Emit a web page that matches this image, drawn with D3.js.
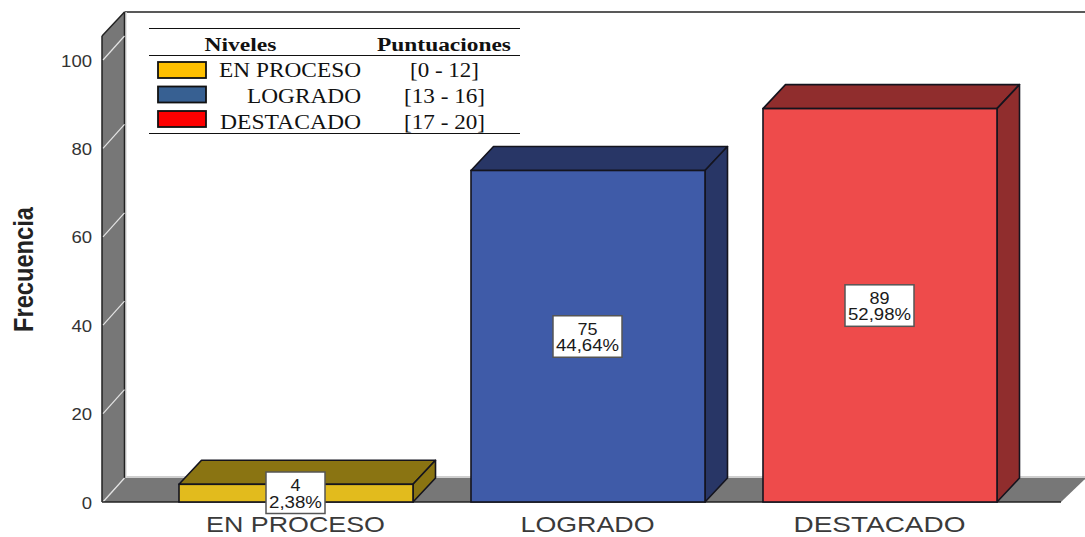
<!DOCTYPE html>
<html>
<head>
<meta charset="utf-8">
<style>
  html, body { margin: 0; background: #fff; overflow: hidden; }
  svg { display: block; }
</style>
<script src="https://cdn.jsdelivr.net/npm/d3@7"></script>
</head>
<body>
<svg id="chart" width="1085" height="537"></svg>
<script>
const categories = ['EN PROCESO', 'LOGRADO', 'DESTACADO'];
const counts = [4, 75, 89];
const percents = ['2,38%', '44,64%', '52,98%'];
const frontColors = ['#e2bb1d', '#3f5ba8', '#ee4b4b'];
const sideColors = ['#8a7412', '#283666', '#902d2d'];
const yTicks = [0, 20, 40, 60, 80, 100];

const legendLevels = ['EN PROCESO', 'LOGRADO', 'DESTACADO'];
const legendRanges = ['[0 - 12]', '[13 - 16]', '[17 - 20]'];
const legendColors = ['#ffc000', '#376092', '#ff0000'];

const SANS = '"Liberation Sans", Arial, sans-serif';
const SERIF = '"Liberation Serif", "Times New Roman", serif';

const depthX = 22.5, depthY = -24;
const svg = d3.select('#chart');

const x = d3.scaleBand().domain(categories).range([179, 997]).paddingInner(0.1986);
const y = d3.scaleLinear().domain([0, 100]).range([502, 60]);

// Polygon helper, offsets are the 3d depth
function poly(parent, pts, fill, stroke) {
  return parent.append('polygon')
    .attr('points', pts.map(p => p.join(',')).join(' '))
    .attr('fill', fill)
    .attr('stroke', stroke || 'none')
    .attr('stroke-width', stroke ? 1.6 : 0)
    .attr('stroke-linejoin', 'round');
}

// Back wall edges and floor
const wallLeft = 102, floorRight = 1061, wallTop = 36;
const floorY = y(0);

svg.append('rect').attr('x', wallLeft + depthX + 1).attr('y', floorY + depthY - 2)
  .attr('width', 1085 - wallLeft - depthX).attr('height', 4).attr('fill', '#cfcfcf');
svg.append('line').attr('x1', wallLeft + depthX).attr('x2', 1085)
  .attr('y1', wallTop + depthY).attr('y2', wallTop + depthY)
  .attr('stroke', '#222').attr('stroke-width', 1.6);
svg.append('line').attr('x1', wallLeft + depthX + 1.5).attr('x2', wallLeft + depthX + 1.5)
  .attr('y1', wallTop + depthY).attr('y2', floorY + depthY)
  .attr('stroke', '#ddd').attr('stroke-width', 1.5);

// Left wall
poly(svg, [[wallLeft, wallTop], [wallLeft + depthX, wallTop + depthY], [wallLeft + depthX, floorY + depthY], [wallLeft, floorY]], '#777');
svg.append('line').attr('x1', wallLeft).attr('x2', wallLeft).attr('y1', wallTop).attr('y2', floorY)
  .attr('stroke', '#222').attr('stroke-width', 1.5);
svg.append('line').attr('x1', wallLeft).attr('x2', wallLeft + depthX).attr('y1', wallTop).attr('y2', wallTop + depthY)
  .attr('stroke', '#222').attr('stroke-width', 1.5);
svg.append('line').attr('x1', wallLeft + depthX).attr('x2', wallLeft + depthX).attr('y1', wallTop + depthY).attr('y2', floorY + depthY)
  .attr('stroke', '#222').attr('stroke-width', 1.5);

// Floor
poly(svg, [[wallLeft, floorY], [wallLeft + depthX, floorY + depthY], [1085, floorY + depthY], [1085, floorY + depthY + 1], [floorRight, floorY]], '#777');

// Wall gridlines
svg.append('g').selectAll('line').data(yTicks).join('line')
  .attr('x1', wallLeft + 1).attr('x2', wallLeft + depthX)
  .attr('y1', d => y(d)).attr('y2', d => y(d) + depthY)
  .attr('stroke', '#e4e4e4').attr('stroke-width', 1.2);

svg.append('line').attr('x1', wallLeft).attr('x2', floorRight).attr('y1', floorY).attr('y2', floorY)
  .attr('stroke', '#222').attr('stroke-width', 1.6);

// Bars
categories.forEach((c, i) => {
  const g = svg.append('g');
  const x0 = x(c), x1 = x0 + x.bandwidth(), yT = y(counts[i]);
  poly(g, [[x0, yT], [x0 + depthX, yT + depthY], [x1 + depthX, yT + depthY], [x1, yT]], sideColors[i], '#14141e');
  poly(g, [[x1, yT], [x1 + depthX, yT + depthY], [x1 + depthX, floorY + depthY], [x1, floorY]], sideColors[i], '#14141e');
  g.append('rect').attr('x', x0).attr('y', yT).attr('width', x.bandwidth()).attr('height', floorY - yT)
    .attr('fill', frontColors[i]).attr('stroke', '#14141e').attr('stroke-width', 1.6);
});

// Value labels
categories.forEach((c, i) => {
  const cx = x(c) + x.bandwidth() / 2 - 0.5;
  // the small bar cannot hold its label, it sits lower around the bar front
  const cy = i === 0 ? 493 : y(counts[i] / 2) + 0.5;
  const g = svg.append('g');
  const boxW = i === 0 ? 59 : 69;
  g.append('rect').attr('x', cx - boxW / 2).attr('y', cy - 21).attr('width', boxW).attr('height', 41.5)
    .attr('fill', '#fff').attr('stroke', '#555').attr('stroke-width', 1.5);
  g.append('text').attr('x', cx).attr('y', cy - 2).attr('text-anchor', 'middle')
    .attr('font-family', SANS).attr('font-size', 16).attr('fill', '#1a1a1a')
    .attr('textLength', String(counts[i]).length * 10).attr('lengthAdjust', 'spacingAndGlyphs')
    .text(counts[i]);
  g.append('text').attr('x', cx).attr('y', cy + 14.5).attr('text-anchor', 'middle')
    .attr('font-family', SANS).attr('font-size', 16).attr('fill', '#1a1a1a')
    .attr('textLength', percents[i].length === 5 ? 53 : 63).attr('lengthAdjust', 'spacingAndGlyphs')
    .text(percents[i]);
});

// Y axis
const yAxis = svg.append('g')
  .attr('transform', 'translate(92,1)')
  .call(d3.axisLeft(y).tickValues(yTicks).tickSize(0).tickPadding(0));
yAxis.select('.domain').remove();
yAxis.selectAll('text')
  .attr('font-family', SANS).attr('font-size', 16).attr('fill', '#333')
  .attr('textLength', d => String(d).length * 10.3).attr('lengthAdjust', 'spacingAndGlyphs');

svg.append('text')
  .attr('transform', 'translate(33,269.5) rotate(-90)')
  .attr('text-anchor', 'middle')
  .attr('font-family', SANS).attr('font-weight', 'bold').attr('font-size', 27).attr('fill', '#222')
  .attr('textLength', 125).attr('lengthAdjust', 'spacingAndGlyphs')
  .text('Frecuencia');

// X category labels
const catWidths = [179, 134, 172];
svg.append('g').selectAll('text').data(categories).join('text')
  .attr('x', d => x(d) + x.bandwidth() / 2 - 0.5)
  .attr('y', 532.3)
  .attr('text-anchor', 'middle')
  .attr('font-family', SANS).attr('font-size', 22).attr('fill', '#3a3a3a')
  .attr('textLength', (d, i) => catWidths[i]).attr('lengthAdjust', 'spacingAndGlyphs')
  .text(d => d);

// Legend table pasted on the chart
const legend = svg.append('g');
[28.5, 55.5, 133.5].forEach(ly => {
  legend.append('line').attr('x1', 149).attr('x2', 520).attr('y1', ly).attr('y2', ly)
    .attr('stroke', '#111').attr('stroke-width', 1.1);
});
legend.append('text').attr('x', 240.5).attr('y', 51).attr('text-anchor', 'middle')
  .attr('font-family', SERIF).attr('font-weight', 'bold').attr('font-size', 18).attr('fill', '#111')
  .attr('textLength', 72).attr('lengthAdjust', 'spacingAndGlyphs').text('Niveles');
legend.append('text').attr('x', 444).attr('y', 51).attr('text-anchor', 'middle')
  .attr('font-family', SERIF).attr('font-weight', 'bold').attr('font-size', 18).attr('fill', '#111')
  .attr('textLength', 134).attr('lengthAdjust', 'spacingAndGlyphs').text('Puntuaciones');

const levelWidths = [142, 114, 141];
const rangeWidths = [69, 81, 81];
legendLevels.forEach((lv, i) => {
  legend.append('rect').attr('x', 158).attr('y', 62 + i * 24.5).attr('width', 48).attr('height', 16)
    .attr('fill', legendColors[i]).attr('stroke', '#111').attr('stroke-width', 1.8);
  legend.append('text').attr('x', 361).attr('y', 77 + i * 26).attr('text-anchor', 'end')
    .attr('font-family', SERIF).attr('font-size', 20).attr('fill', '#111')
    .attr('textLength', levelWidths[i]).attr('lengthAdjust', 'spacingAndGlyphs').text(lv);
  legend.append('text').attr('x', 444.5).attr('y', 77 + i * 26).attr('text-anchor', 'middle')
    .attr('font-family', SERIF).attr('font-size', 20).attr('fill', '#111')
    .attr('textLength', rangeWidths[i]).attr('lengthAdjust', 'spacingAndGlyphs').text(legendRanges[i]);
});
</script>
</body>
</html>
